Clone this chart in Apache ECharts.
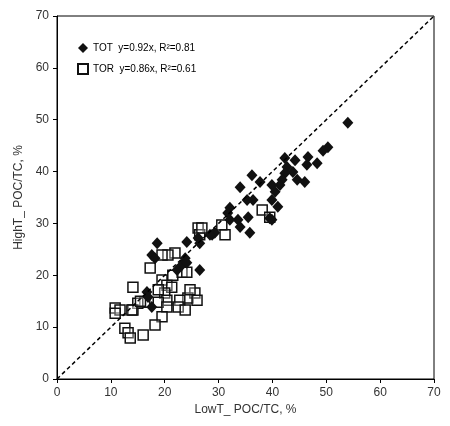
<!DOCTYPE html>
<html><head><meta charset="utf-8">
<script src="https://cdn.jsdelivr.net/npm/echarts@6/dist/echarts.min.js"></script>
<style>body{margin:0}#main{width:450px;height:426px}</style>
</head><body><div id="main"></div>
<script>
// TOT: [LowT, HighT]
var totData = [[54.0,49.4],[50.3,44.7],[49.4,44.0],[46.6,42.8],[48.3,41.6],[46.4,41.3],[42.3,42.6],[44.2,42.2],
  [42.7,40.9],[43.8,39.9],[42.3,39.7],[44.6,38.4],[46.0,38.0],[41.8,38.4],[41.4,37.4],[36.2,39.3],[37.7,38.0],
  [34.0,37.0],[39.9,37.4],[40.5,36.1],[35.3,34.5],[36.4,34.5],[39.9,34.5],[41.0,33.2],[32.1,33.0],[31.7,32.0],
  [33.6,30.7],[35.5,31.2],[39.5,31.0],[32.1,30.7],[34.0,29.3],[35.8,28.2],[28.8,27.8],[39.9,30.7],
  [29.3,28.2],[28.4,27.8],[26.2,27.2],[26.5,26.2],[24.1,26.4],[18.6,26.2],[17.6,23.9],[18.2,23.3],[23.8,23.3],
  [23.2,22.0],[24.1,22.4],[26.5,21.0],[22.3,21.0],[16.7,16.8],[17.6,13.9],[16.9,15.8]];
// TOR
var torData = [[26.2,29.1],[26.5,27.8],[21.9,24.3],[20.6,23.9],[19.5,23.9],[17.3,21.4],[23.2,20.6],[24.1,20.6],
  [19.5,19.1],[20.4,18.1],[21.3,17.7],[14.1,17.7],[20.0,16.6],[18.8,17.2],[25.6,16.6],[24.3,15.6],[22.8,15.2],
  [20.4,15.2],[18.8,14.8],[16.3,14.8],[15.0,14.6],[14.1,13.3],[10.8,13.7],[11.7,13.3],[10.8,12.7],[13.9,13.3],
  [20.4,13.9],[22.5,13.9],[19.5,12.0],[18.2,10.4],[12.6,9.8],[13.2,8.9],[13.6,7.9],[16.0,8.5],[23.8,13.3],
  [24.7,17.2],[26.0,15.2],[38.1,32.6],[39.5,31.2],[30.6,29.7],[31.2,27.8],[26.9,29.1],[15.5,15.0],[21.5,20.0]];
var oneToOne = [[0,0],[70,70]];
var legendNames = ['TOT  y=0.92x, R²=0.81', 'TOR  y=0.86x, R²=0.61'];

var chart = echarts.init(document.getElementById('main'));
var axisCommon = {
  min: 0, max: 70, interval: 10,
  nameLocation: 'middle',
  nameTextStyle: {color: '#333', fontSize: 12, fontFamily: 'Liberation Sans'},
  axisLine: {onZero: false, lineStyle: {color: '#000'}},
  axisTick: {inside: false, length: 4, lineStyle: {color: '#000'}},
  axisLabel: {color: '#333', fontSize: 12, fontFamily: 'Liberation Sans'},
  splitLine: {show: false}
};
chart.setOption({
  animation: false,
  backgroundColor: '#fff',
  grid: {left: 57, right: 16, top: 16, bottom: 47, show: true, borderColor: '#000', borderWidth: 1},
  legend: {
    left: 72, top: 38, orient: 'vertical', itemGap: 10, itemWidth: 10, itemHeight: 10,
    textStyle: {fontSize: 10, color: '#000', fontFamily: 'Liberation Sans'},
    data: [{name: legendNames[0], icon: 'diamond'}, {name: legendNames[1], icon: 'rect'}]
  },
  xAxis: Object.assign({}, axisCommon, {name: 'LowT_ POC/TC, %', nameGap: 25}),
  yAxis: Object.assign({}, axisCommon, {name: 'HighT_ POC/TC, %', nameGap: 30}),
  series: [
    {type: 'line', data: oneToOne, symbol: 'none', silent: true,
     lineStyle: {color: '#000', width: 1.5, type: [4, 3]}},
    {name: legendNames[1], type: 'scatter', data: torData, symbol: 'rect', symbolSize: 10,
     itemStyle: {color: 'rgba(255,255,255,0.3)', borderColor: '#111', borderWidth: 1.5, opacity: 1}},
    {name: legendNames[0], type: 'scatter', data: totData, symbol: 'diamond', symbolSize: [11, 12],
     itemStyle: {color: '#111', opacity: 1}}
  ]
});
</script></body></html>
